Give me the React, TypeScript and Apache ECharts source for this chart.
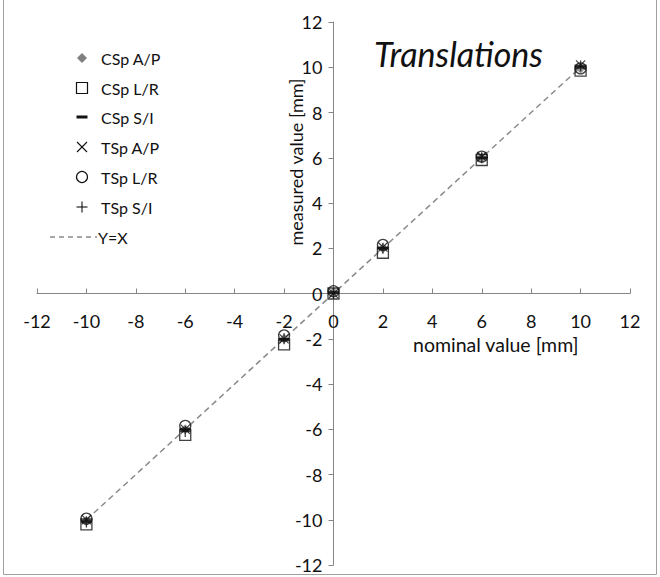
import React, { useEffect, useRef } from "react";
import * as echarts from "echarts";

const xNominal = [-10, -6, -2, 0, 2, 6, 10];
const cspAP = [-10.05, -6.0, -2.0, 0.05, 2.0, 6.0, 9.95];
const cspLR = [-10.2, -6.25, -2.25, 0.0, 1.8, 5.9, 9.85];
const cspSI = [-10.05, -6.0, -2.05, 0.05, 2.0, 6.0, 10.0];
const tspAP = [-10.0, -6.0, -2.0, 0.0, 2.05, 6.05, 10.1];
const tspLR = [-9.95, -5.85, -1.85, 0.1, 2.15, 6.05, 9.95];
const tspSI = [-10.1, -6.1, -2.0, 0.0, 2.0, 6.0, 10.05];
const identityLine = [[-10, -10], [10, 10]];
const legendNames = ["CSp A/P", "CSp L/R", "CSp S/I", "TSp A/P", "TSp L/R", "TSp S/I", "Y=X"];

const FONT = "Lato, 'Open Sans', sans-serif";
const X_PATH = "path://M0,0.8 L0.8,0 L10,9.2 L9.2,10 Z M9.2,0 L10,0.8 L0.8,10 L0,9.2 Z";
const PLUS_PATH = "path://M4.4,0 H5.6 V10 H4.4 Z M0,4.4 H10 V5.6 H0 Z";

function pairs(ys: number[]) {
  return xNominal.map((x, i) => [x, ys[i]]);
}

export default function App() {
  const ref = useRef<HTMLDivElement>(null);
  useEffect(() => {
    if (!ref.current) return;
    const chart = echarts.init(ref.current, undefined, { renderer: "svg" });
    const rowY = [58, 88, 117, 147, 177, 207, 237];
    const mx = 82;
    const legendGraphics: any[] = [
      { type: "polygon", shape: { points: [[mx, rowY[0] - 5], [mx + 5, rowY[0]], [mx, rowY[0] + 5], [mx - 5, rowY[0]]] }, style: { fill: "#808080" } },
      { type: "rect", shape: { x: mx - 5.5, y: rowY[1] - 5.5, width: 11, height: 11 }, style: { fill: "none", stroke: "#111", lineWidth: 1.2 } },
      { type: "rect", shape: { x: mx - 5.5, y: rowY[2] - 1.5, width: 11, height: 3 }, style: { fill: "#111" } },
      { type: "line", shape: { x1: mx - 5, y1: rowY[3] - 5, x2: mx + 5, y2: rowY[3] + 5 }, style: { stroke: "#111", lineWidth: 1.1 } },
      { type: "line", shape: { x1: mx - 5, y1: rowY[3] + 5, x2: mx + 5, y2: rowY[3] - 5 }, style: { stroke: "#111", lineWidth: 1.1 } },
      { type: "circle", shape: { cx: mx, cy: rowY[4], r: 5.5 }, style: { fill: "none", stroke: "#111", lineWidth: 1.2 } },
      { type: "line", shape: { x1: mx - 5.5, y1: rowY[5], x2: mx + 5.5, y2: rowY[5] }, style: { stroke: "#111", lineWidth: 1.1 } },
      { type: "line", shape: { x1: mx, y1: rowY[5] - 5.5, x2: mx, y2: rowY[5] + 5.5 }, style: { stroke: "#111", lineWidth: 1.1 } },
      { type: "line", shape: { x1: 50, y1: rowY[6], x2: 97, y2: rowY[6] }, style: { stroke: "#8a8a8a", lineWidth: 1.5, lineDash: [5, 4] } },
    ];
    legendNames.forEach((n, i) => {
      legendGraphics.push({
        type: "text",
        x: i === 6 ? 98 : 101,
        y: rowY[i],
        style: { text: n, font: `16px ${FONT}`, fill: "#111", verticalAlign: "middle", align: "left" },
      });
    });

    const gridLeft = 37, gridRight = 30, gridTop = 22, gridBottom = 12;
    const gw = 660 - gridLeft - gridRight;
    const gh = 577 - gridTop - gridBottom;
    const axisColor = "#868686";
    chart.setOption({
      animation: false,
      backgroundColor: "#fff",
      title: {
        text: "Translations",
        left: 369,
        top: 31,
        textStyle: { fontFamily: FONT, fontStyle: "italic", fontWeight: "normal", fontSize: 34, color: "#111" },
      },
      grid: { left: gridLeft, right: gridRight, top: gridTop, bottom: gridBottom, containLabel: false },
      xAxis: {
        type: "value",
        min: -12,
        max: 12,
        interval: 2,
        position: "bottom",
        offset: -gh / 2,
        axisLine: { onZero: false, lineStyle: { color: axisColor, width: 1 } },
        axisTick: { show: true, inside: true, length: 5, lineStyle: { color: axisColor } },
        axisLabel: { margin: 18, fontFamily: FONT, fontSize: 18, color: "#111" },
        splitLine: { show: false },
      },
      yAxis: {
        type: "value",
        min: -12,
        max: 12,
        interval: 2,
        position: "left",
        offset: -gw / 2,
        axisLine: { show: true, onZero: false, lineStyle: { color: axisColor, width: 1 } },
        axisTick: { show: true, inside: false, length: 5, lineStyle: { color: axisColor } },
        axisLabel: { margin: 11, fontFamily: FONT, fontSize: 18, color: "#111" },
        splitLine: { show: false },
      },
      graphic: [
        ...legendGraphics,
        {
          type: "text",
          x: 413,
          y: 344,
          style: { text: "nominal value [mm]", font: `19.5px ${FONT}`, fill: "#111", verticalAlign: "middle", align: "left" },
        },
        {
          type: "text",
          x: 296,
          y: 162,
          rotation: Math.PI / 2,
          style: { text: "measured value [mm]", font: `18px ${FONT}`, fill: "#111", verticalAlign: "middle", align: "center" },
        },
        {
          type: "polyline",
          shape: { points: [[3.5, 0], [3.5, 574.5], [656.5, 574.5], [656.5, 0]] },
          style: { fill: "none", stroke: "#a0a0a0", lineWidth: 1 },
        },
      ],
      series: [
        {
          name: "Y=X",
          type: "line",
          data: identityLine,
          showSymbol: false,
          lineStyle: { color: "#8a8a8a", width: 1.5, type: [6, 4] },
          z: 1,
        },
        {
          name: "CSp A/P",
          type: "scatter",
          data: pairs(cspAP),
          symbol: "diamond",
          symbolSize: 10,
          itemStyle: { color: "#808080" },
          z: 2,
        },
        {
          name: "CSp L/R",
          type: "scatter",
          data: pairs(cspLR),
          symbol: "rect",
          symbolSize: 11,
          itemStyle: { color: "rgba(255,255,255,0)", borderColor: "#111", borderWidth: 1.3 },
          z: 3,
        },
        {
          name: "CSp S/I",
          type: "scatter",
          data: pairs(cspSI),
          symbol: "rect",
          symbolSize: [11, 3],
          itemStyle: { color: "#111" },
          z: 4,
        },
        {
          name: "TSp A/P",
          type: "scatter",
          data: pairs(tspAP),
          symbol: X_PATH,
          symbolSize: 10,
          itemStyle: { color: "#111" },
          z: 5,
        },
        {
          name: "TSp L/R",
          type: "scatter",
          data: pairs(tspLR),
          symbol: "circle",
          symbolSize: 11,
          itemStyle: { color: "rgba(255,255,255,0)", borderColor: "#111", borderWidth: 1.3 },
          z: 6,
        },
        {
          name: "TSp S/I",
          type: "scatter",
          data: pairs(tspSI),
          symbol: PLUS_PATH,
          symbolSize: 11,
          itemStyle: { color: "#111" },
          z: 7,
        },
      ],
    });
    return () => chart.dispose();
  }, []);
  return (
    <div
      ref={ref}
      style={{ position: "absolute", left: 0, top: 0, width: 660, height: 577 }}
    />
  );
}
